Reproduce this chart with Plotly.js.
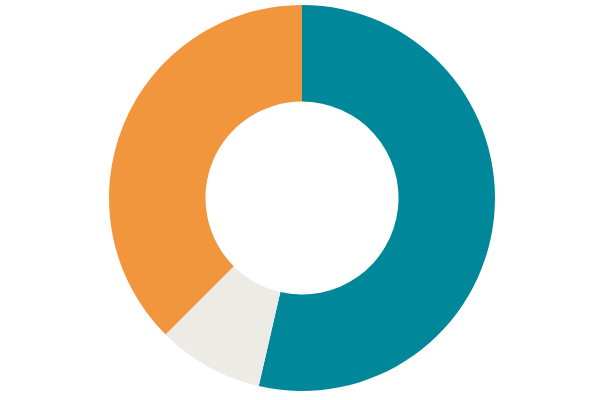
<!DOCTYPE html>
<html>
<head>
<meta charset="utf-8">
<script src="https://cdn.plot.ly/plotly-3.0.1.min.js"></script>
<style>html,body{margin:0;padding:0;background:#fff}#chart{width:600px;height:400px}</style>
</head>
<body>
<div id="chart"></div>
<script>
const labels = ["A", "B", "C"];
const values = [53.6, 8.9, 37.5];
const colors = ["#00889A", "#ECEBE6", "#F2963E"];

Plotly.newPlot("chart", [{
  type: "pie",
  labels: labels,
  values: values,
  hole: 0.5,
  sort: false,
  direction: "clockwise",
  rotation: 0,
  textinfo: "none",
  hoverinfo: "label+percent",
  marker: {colors: colors, line: {width: 0}}
}], {
  width: 600,
  height: 400,
  showlegend: false,
  margin: {l: 4, r: 0, t: 5, b: 9},
  paper_bgcolor: "#ffffff"
}, {displayModeBar: false, staticPlot: true});
</script>
</body>
</html>
